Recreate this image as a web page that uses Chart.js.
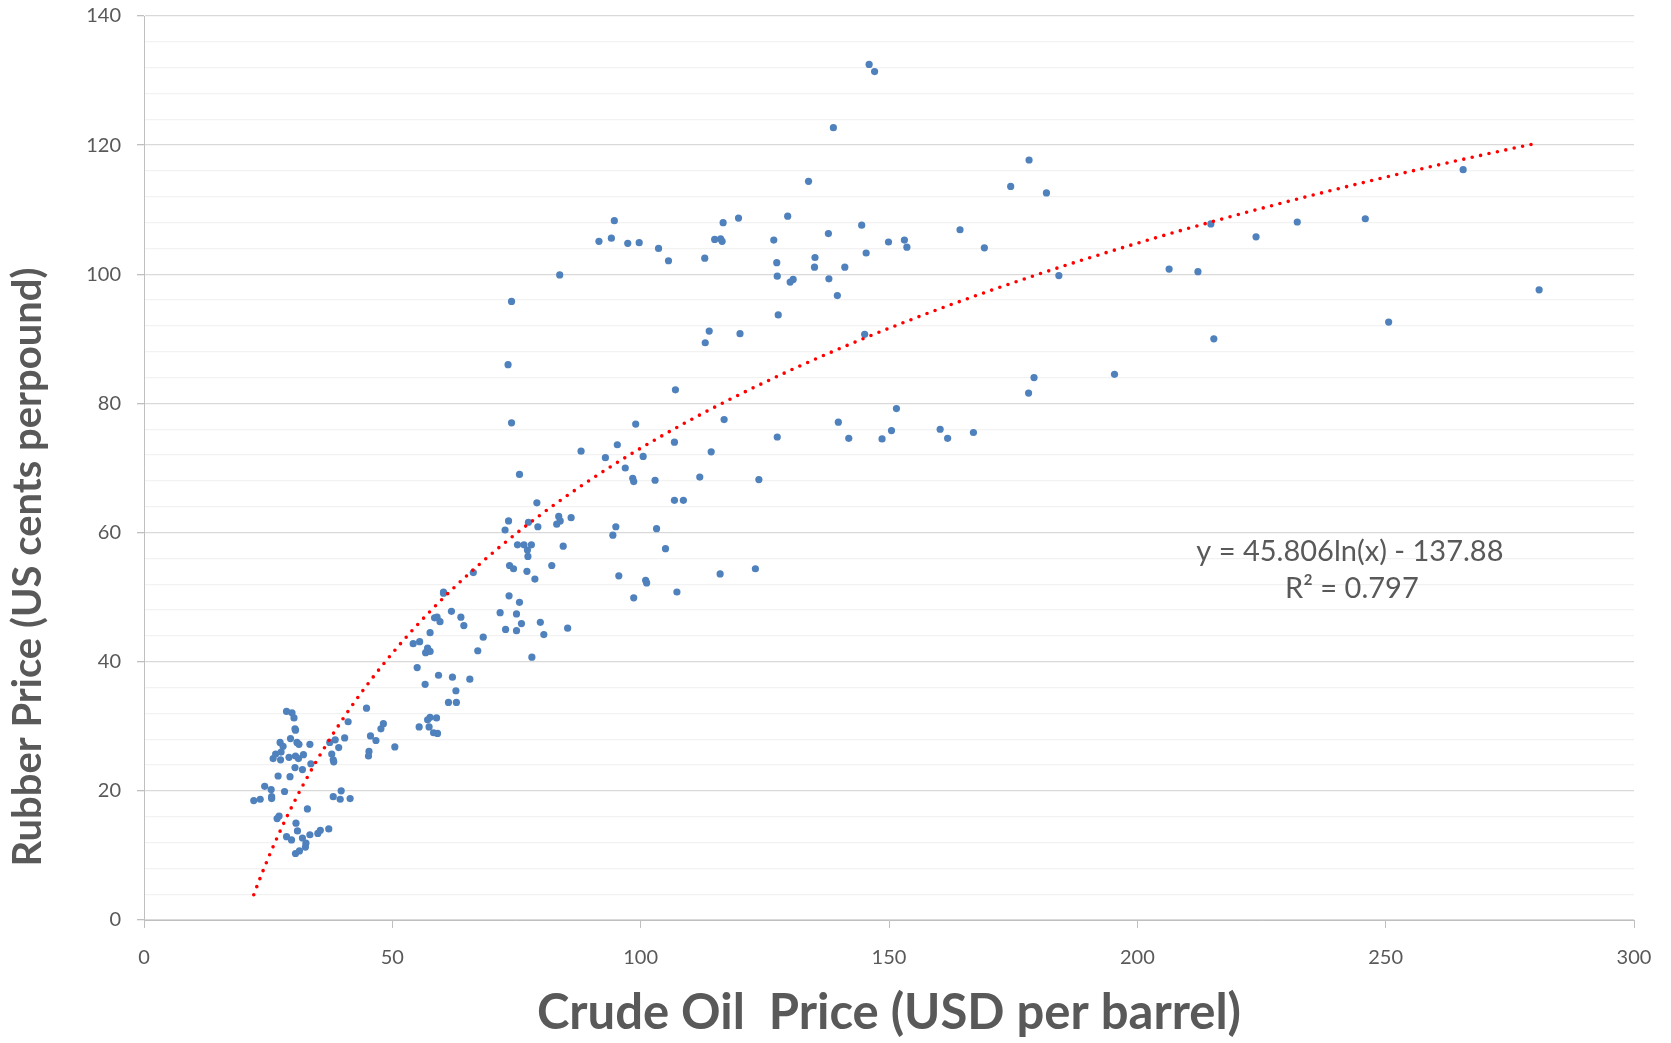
<!DOCTYPE html>
<html>
<head>
<meta charset="utf-8">
<script src="https://cdn.jsdelivr.net/npm/chart.js@4.4.1/dist/chart.umd.min.js"></script>
<style>
html,body{margin:0;padding:0;background:#fff;}
canvas{display:block;}
</style>
</head>
<body>
<canvas id="c" width="1671" height="1043"></canvas>
<script>
// Crude oil price (USD per barrel)
const oilPrice = [
55.0,59.3,62.1,65.6,56.6,62.8,61.3,62.9,44.8,28.7,29.8,30.2,41.1,57.6,58.9,57.1,55.4,57.4,58.3,59.1,
48.2,47.7,30.4,30.5,29.5,27.4,28.0,30.8,31.2,33.4,37.4,38.5,40.4,39.2,37.8,38.1,38.2,45.6,46.7,45.3,
45.2,50.5,26.5,26.0,27.6,27.5,29.2,30.5,31.1,32.1,33.6,30.4,31.9,27.0,29.4,24.3,25.6,28.3,25.7,25.7,
22.1,23.4,39.7,38.1,39.5,41.5,32.9,27.2,26.8,30.6,30.9,28.7,29.7,31.9,33.4,35.0,35.5,37.2,32.6,32.5,
30.5,31.3,
75.6,96.9,98.4,98.6,102.9,106.8,79.1,73.4,72.7,77.4,79.3,83.5,83.8,83.1,86.0,95.0,94.4,103.2,105.0,75.2,
76.5,78.0,77.2,77.3,84.4,82.1,73.6,74.4,77.1,78.7,95.6,101.0,101.2,98.6,107.3,66.3,60.3,60.3,61.9,63.8,
64.4,58.5,59.0,59.6,57.6,54.2,55.5,57.1,56.7,57.6,68.3,67.2,73.5,75.6,71.7,75.0,76.0,79.8,72.8,75.0,
80.5,85.3,78.1,
127.7,113.8,113.0,120.0,107.0,116.8,99.0,106.8,127.5,139.8,141.9,88.0,95.3,92.9,100.5,114.2,111.9,123.8,108.6,116.0,
123.1,
133.8,91.6,94.1,94.7,97.4,99.7,103.6,105.6,112.9,114.9,116.1,116.4,116.6,119.7,126.8,127.4,127.5,129.6,130.1,130.7,
135.1,135.0,137.8,137.9,141.1,139.6,144.5,145.4,145.1,149.9,153.1,153.6,164.3,83.7,
146.0,147.1,178.2,174.5,181.7,169.2,184.2,206.4,179.2,178.1,195.4,151.5,148.6,150.5,160.3,161.8,167.0,
212.2,214.8,215.4,223.9,232.2,245.9,250.6,265.6,280.9,
138.8,73.3,74.0,74.0
];
// Rubber price (US cents per pound)
const rubberPrice = [
39.1,37.9,37.6,37.3,36.5,35.5,33.7,33.7,32.8,32.3,32.1,31.3,30.7,31.4,31.3,31.0,29.9,29.9,29.0,28.9,
30.4,29.6,29.6,29.4,28.1,27.5,26.9,27.5,27.2,27.2,27.5,27.9,28.2,26.7,25.7,24.8,24.5,28.5,27.8,26.1,
25.4,26.8,25.7,25.0,26.0,24.8,25.2,25.4,25.0,25.6,24.2,23.6,23.3,22.3,22.2,20.7,20.2,19.9,19.1,18.8,
18.5,18.7,20.0,19.1,18.7,18.8,17.2,16.1,15.7,15.0,13.8,12.9,12.4,12.7,13.2,13.4,13.9,14.1,11.9,11.3,
10.3,10.7,
69.0,70.0,68.4,67.9,68.1,65.0,64.6,61.8,60.4,61.6,60.9,62.5,61.8,61.3,62.3,60.9,59.6,60.6,57.5,58.1,
58.1,58.1,57.3,56.3,57.9,54.9,54.9,54.4,54.0,52.8,53.3,52.6,52.2,49.9,50.8,53.8,50.8,50.6,47.8,46.9,
45.6,46.8,46.9,46.2,44.5,42.8,43.1,42.1,41.4,41.6,43.8,41.7,50.2,49.2,47.6,47.4,45.9,46.1,45.0,44.8,
44.2,45.2,40.7,
93.7,91.2,89.4,90.8,82.1,77.5,76.8,74.0,74.8,77.1,74.6,72.6,73.6,71.6,71.8,72.5,68.6,68.2,65.0,53.6,
54.4,
114.4,105.1,105.6,108.3,104.8,104.9,104.0,102.1,102.5,105.4,105.5,105.1,108.0,108.7,105.3,101.8,99.7,109.0,98.8,99.2,
102.6,101.1,106.3,99.3,101.1,96.7,107.6,103.3,90.7,105.0,105.3,104.2,106.9,99.9,
132.5,131.4,117.7,113.6,112.6,104.1,99.8,100.8,84.0,81.6,84.5,79.2,74.5,75.8,76.0,74.6,75.5,
100.4,107.8,90.0,105.8,108.1,108.6,92.6,116.2,97.6,
122.7,86.0,95.8,77.0
];

// Logarithmic trendline shown on the chart: y = 45.806 ln(x) - 137.88
const trendCoef = [45.806, -137.88];
const trendLabels = ['y = 45.806ln(x) - 137.88', 'R\u00B2 = 0.797'];
const xTicks = [0, 50, 100, 150, 200, 250, 300];
const yTicks = [0, 20, 40, 60, 80, 100, 120, 140];
const xTitle = 'Crude Oil  Price (USD per barrel)';
const yTitle = 'Rubber Price (US cents perpound)';

const scatterPts = oilPrice.map((x, i) => ({x: x, y: rubberPrice[i]}));
const xMin = Math.min(...oilPrice), xMax = Math.max(...oilPrice);
const trendPts = [];
const N = 400;
for (let i = 0; i <= N; i++) {
  const x = xMin + (xMax - xMin) * i / N;
  trendPts.push({x: x, y: trendCoef[0] * Math.log(x) + trendCoef[1]});
}

const TEXT = '#595959';
const FONT = 'Lato';

const extraText = {
  id: 'extraText',
  afterDraw(chart) {
    const ctx = chart.ctx;
    const xs = chart.scales.x, ys = chart.scales.y;
    ctx.save();
    ctx.fillStyle = TEXT;
    // y-axis title
    ctx.font = 'bold 40px ' + FONT;
    ctx.textAlign = 'center';
    ctx.textBaseline = 'middle';
    ctx.translate(28, 567);
    ctx.rotate(-Math.PI / 2);
    ctx.fillText(yTitle, 0, 0);
    ctx.restore();
    // trendline equation
    ctx.save();
    ctx.fillStyle = TEXT;
    ctx.font = '29px ' + FONT;
    ctx.textAlign = 'center';
    ctx.textBaseline = 'middle';
    ctx.fillText(trendLabels[0], xs.getPixelForValue(242.8), ys.getPixelForValue(57.1));
    ctx.fillText(trendLabels[1], xs.getPixelForValue(243.2), ys.getPixelForValue(51.3));
    ctx.restore();
  }
};

new Chart(document.getElementById('c'), {
  type: 'scatter',
  data: {
    datasets: [
      {
        label: 'Rubber vs Oil',
        data: scatterPts,
        backgroundColor: '#4F81BD',
        borderColor: '#4F81BD',
        borderWidth: 0,
        pointRadius: 3.6,
        order: 2
      },
      {
        type: 'line',
        label: 'Log. trend',
        data: trendPts,
        borderColor: '#FF0000',
        borderWidth: 3.6,
        borderDash: [0, 8.6],
        borderCapStyle: 'round',
        pointRadius: 0,
        fill: false,
        tension: 0,
        order: 1
      }
    ]
  },
  options: {
    responsive: false,
    animation: false,
    layout: {padding: {left: 0, right: 37, top: 16, bottom: 0}},
    plugins: {legend: {display: false}, tooltip: {enabled: false}},
    scales: {
      x: {
        type: 'linear',
        min: 0, max: 300,
        afterBuildTicks(s) { s.ticks = xTicks.map(v => ({value: v})); },
        ticks: {color: TEXT, font: {family: FONT, size: 20}, padding: 18, maxRotation: 0, autoSkip: false},
        grid: {drawOnChartArea: false, drawTicks: true, tickLength: 8, tickColor: '#BFBFBF'},
        border: {color: '#BFBFBF', width: 1},
        title: {display: true, text: xTitle, color: TEXT, font: {family: FONT, size: 49, weight: 'bold'}, padding: {top: 0, bottom: 0}},
        afterFit(s) { s.height = 123; s.paddingLeft = 0; s.paddingRight = 0; }
      },
      y: {
        type: 'linear',
        min: 0, max: 140,
        ticks: {
          stepSize: 4, autoSkip: false, color: TEXT, font: {family: FONT, size: 20}, padding: 16,
          callback: v => (yTicks.includes(v) ? String(v) : '')
        },
        grid: {
          tickLength: 7,
          color: c => (yTicks.includes(c.tick.value) ? '#D9D9D9' : '#F2F2F2'),
          tickColor: c => (yTicks.includes(c.tick.value) ? '#BFBFBF' : 'rgba(0,0,0,0)'),
          lineWidth: 1.3
        },
        border: {color: '#BFBFBF', width: 1},
        afterFit(s) { s.width = 144; s.paddingTop = 0; s.paddingBottom = 0; }
      }
    }
  },
  plugins: [extraText]
});
</script>
</body>
</html>
